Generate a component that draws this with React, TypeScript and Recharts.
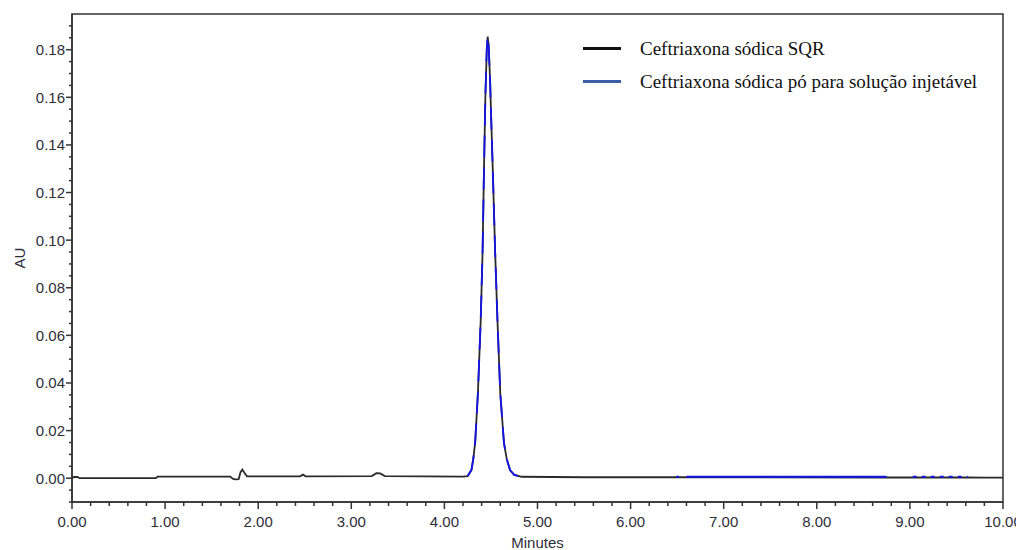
import { LineChart, Line, XAxis, YAxis, ReferenceArea } from "recharts";

// Retention time (min) of every sampled point
const minutes = [
  0.0, 0.02, 0.06, 0.08, 0.9, 0.92, 1.7, 1.73, 1.76, 1.79, 1.81, 1.83, 1.85, 1.88,
  2.45, 2.48, 2.51, 3.22, 3.27, 3.31, 3.36, 4.2, 4.25, 4.29, 4.31, 4.33, 4.36, 4.39,
  4.41, 4.425, 4.44, 4.455, 4.465, 4.475, 4.49, 4.505, 4.52, 4.545, 4.57, 4.6, 4.64,
  4.67, 4.705, 4.75, 4.83, 5.5, 6.49, 6.52, 6.56, 6.6, 8.75, 8.9, 9.03, 9.62, 9.8, 10.0,
];

// Absorbance (AU) – reference standard
const sqr = [
  0.0, 0.0005, 0.0005, 0.0, 0.0, 0.0007, 0.0007, -0.0003, -0.0005, -0.0004, 0.0025, 0.0036, 0.0024, 0.0008,
  0.0008, 0.0015, 0.0008, 0.0009, 0.0021, 0.002, 0.0009, 0.0007, 0.0009, 0.0034, 0.008, 0.0147, 0.0357, 0.0663,
  0.095, 0.129, 0.16, 0.18, 0.1855, 0.182, 0.168, 0.148, 0.129, 0.095, 0.0663, 0.0357, 0.0147,
  0.008, 0.0034, 0.0014, 0.0006, 0.0004, 0.0004, 0.0004, 0.0004, 0.0004, 0.0003, 0.0003, 0.0003, 0.0003, 0.0002, 0.0002,
];

// Absorbance (AU) – injectable powder sample (null = not drawn)
const injetavel = [
  null, null, null, null, null, null, null, null, null, null, null, null, null, null,
  null, null, null, null, null, null, null, null, 0.0009, 0.0034, 0.008, 0.0147, 0.0357, 0.0663,
  0.095, 0.129, 0.16, 0.18, 0.1855, 0.182, 0.168, 0.148, 0.129, 0.095, 0.0663, 0.0357, 0.0147,
  0.008, 0.0034, 0.0014, 0.0006, null, 0.0006, 0.0006, null, 0.0006, 0.0006, null, 0.0006, 0.0006, null, null,
];

const legendItems = [
  { name: "Ceftriaxona sódica SQR", color: "#111111" },
  { name: "Ceftriaxona sódica pó para solução injetável", color: "#3a5ea8" },
];

const xMajor = [0, 1, 2, 3, 4, 5, 6, 7, 8, 9, 10];
const xTicks = Array.from({ length: 51 }, (_, i) => i / 5);
const yTicks = Array.from({ length: 41 }, (_, i) => Math.round((i - 2) * 5) / 1000);

const rows = minutes.map((t, i) => ({
  t,
  sqr: sqr[i],
  pico: t < 5.5 ? injetavel[i] : null,
  base: t > 6 && t < 9 ? injetavel[i] : null,
  cauda: t > 9 ? injetavel[i] : null,
}));

const font = "'Liberation Sans', Arial, sans-serif";
const ink = "#2e2e38";

const XTick = ({ x, y, payload }: any) => {
  const v = payload.value;
  const major = xMajor.some((m) => Math.abs(m - v) < 1e-6);
  return (
    <g>
      <line x1={x} x2={x} y1={y} y2={y + (major ? 7 : 4)} stroke="#333" strokeWidth={1.5} />
      {major && (
        <text x={x} y={y + 25} textAnchor="middle" fontSize={15} fontFamily={font} fill={ink}>
          {v.toFixed(2)}
        </text>
      )}
    </g>
  );
};

const YTick = ({ x, y, payload }: any) => {
  const v = payload.value;
  const major = Math.abs(Math.round(v * 50) - v * 50) < 1e-6;
  return (
    <g>
      <line x1={x - (major ? 6 : 3)} x2={x} y1={y} y2={y} stroke="#333" strokeWidth={1.5} />
      {major && v >= 0 && (
        <text x={x - 7} y={y} dy="0.36em" textAnchor="end" fontSize={15} fontFamily={font} fill={ink}>
          {v.toFixed(2)}
        </text>
      )}
    </g>
  );
};

export default function App() {
  return (
    <div style={{ position: "relative", width: 1016, height: 542 }}>
      <LineChart width={1016} height={542} data={rows} margin={{ top: 6, right: 21, bottom: 0, left: 0 }}>
        <ReferenceArea x1={0} x2={10} y1={-0.01} y2={0.195} fill="none" stroke="#333" strokeWidth={1.5} />
        <XAxis
          dataKey="t"
          type="number"
          domain={[0, 10]}
          ticks={xTicks}
          interval={0}
          tickSize={0}
          tickMargin={0}
          tickLine={false}
          tick={<XTick />}
          height={48}
          axisLine={{ stroke: "#333", strokeWidth: 1.5 }}
          label={{ value: "Minutes", position: "insideBottom", offset: 2, fontSize: 15, fontFamily: font, fill: ink }}
        />
        <YAxis
          type="number"
          domain={[-0.01, 0.195]}
          ticks={yTicks}
          interval={0}
          tickSize={0}
          tickMargin={0}
          tickLine={false}
          tick={<YTick />}
          width={64}
          allowDataOverflow
          axisLine={{ stroke: "#333", strokeWidth: 1.5 }}
          label={{
            value: "AU",
            angle: -90,
            position: "insideLeft",
            offset: 12,
            fontSize: 15,
            fontFamily: font,
            fill: ink,
            style: { textAnchor: "middle" },
          }}
        />
        <Line dataKey="sqr" type="linear" stroke="#2a2a2a" strokeWidth={1.8} dot={false} isAnimationActive={false} />
        <Line
          dataKey="pico"
          type="linear"
          stroke="#1414e6"
          strokeWidth={1.8}
          strokeDasharray="22 10"
          dot={false}
          isAnimationActive={false}
        />
        <Line dataKey="base" type="linear" stroke="#1414e6" strokeWidth={1.8} dot={false} isAnimationActive={false} />
        <Line
          dataKey="cauda"
          type="linear"
          stroke="#1414e6"
          strokeWidth={1.8}
          strokeDasharray="4 5"
          dot={false}
          isAnimationActive={false}
        />
      </LineChart>
      {/* series key, top right inside the frame */}
      <div
        style={{
          position: "absolute",
          top: 24,
          left: 575,
          fontFamily: "'Liberation Serif', 'Times New Roman', serif",
          fontSize: 19,
          color: "#111",
        }}
      >
        {legendItems.map((it) => (
          <div key={it.name} style={{ display: "flex", alignItems: "center", height: 33, whiteSpace: "nowrap" }}>
            <span style={{ display: "inline-block", width: 38, height: 3, background: it.color, marginRight: 19 }} />
            <span>{it.name}</span>
          </div>
        ))}
      </div>
    </div>
  );
}
